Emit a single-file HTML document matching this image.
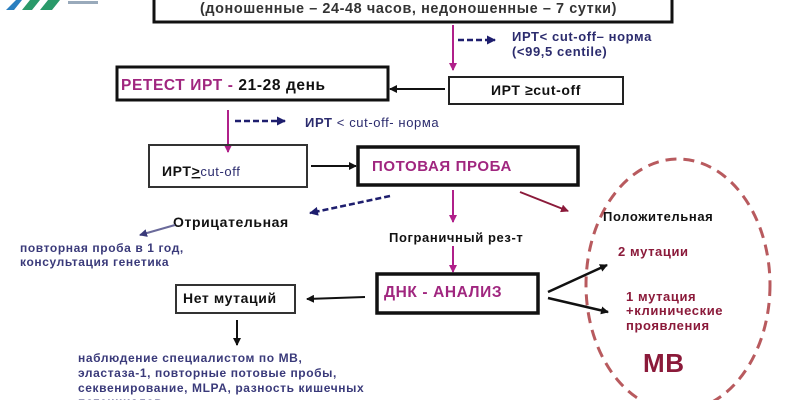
<!DOCTYPE html>
<html><head><meta charset="utf-8"><style>
body{margin:0;background:#fff}
svg{display:block}
text{font-family:"Liberation Sans","DejaVu Sans",sans-serif;font-weight:bold;letter-spacing:0.6px}
</style></head><body>
<svg width="800" height="400" viewBox="0 0 800 400" xmlns="http://www.w3.org/2000/svg">
<defs>
<marker id="ab" markerWidth="8" markerHeight="8" refX="7" refY="4" orient="auto" markerUnits="userSpaceOnUse"><path d="M0,0 L8,4 L0,8 z" fill="#111"/></marker>
<marker id="am" markerWidth="8" markerHeight="8" refX="7" refY="4" orient="auto" markerUnits="userSpaceOnUse"><path d="M0,0 L8,4 L0,8 z" fill="#b0208a"/></marker>
<marker id="an" markerWidth="9" markerHeight="9" refX="8" refY="4.5" orient="auto" markerUnits="userSpaceOnUse"><path d="M0,0 L9,4.5 L0,9 z" fill="#1e1e6e"/></marker>
<marker id="ar" markerWidth="8" markerHeight="8" refX="7" refY="4" orient="auto" markerUnits="userSpaceOnUse"><path d="M0,0 L8,4 L0,8 z" fill="#8b1a3a"/></marker>
<marker id="ag" markerWidth="8" markerHeight="8" refX="7" refY="4" orient="auto" markerUnits="userSpaceOnUse"><path d="M0,0 L8,4 L0,8 z" fill="#3a3a7a"/></marker>
</defs>
<path d="M6,10 L16,0 L22,0 L14,10 z" fill="#2a7fc0"/>
<path d="M22,10 L30,0 L40,0 L32,10 z" fill="#2a9a6a"/>
<path d="M40,10 L48,0 L60,0 L52,10 z" fill="#2a9a6a"/>
<rect x="68" y="1" width="30" height="3" fill="#9ab"/>
<rect x="154" y="-5" width="518" height="27" fill="none" stroke="#111" stroke-width="3"/>
<text x="200" y="13" font-size="14.5" fill="#333" textLength="417" lengthAdjust="spacingAndGlyphs">(доношенные – 24-48 часов, недоношенные – 7 сутки)</text>
<line x1="453" y1="25" x2="453" y2="70" stroke="#b0208a" stroke-width="2" marker-end="url(#am)"/>
<line x1="458" y1="40" x2="495" y2="40" stroke="#1e1e6e" stroke-width="2.5" stroke-dasharray="6,3" marker-end="url(#an)"/>
<text x="512" y="41" font-size="13" fill="#2c2c6e">ИРТ&lt; cut-off– норма</text>
<text x="512" y="56" font-size="13" fill="#2c2c6e">(&lt;99,5 centile)</text>
<rect x="449" y="77" width="174" height="27" fill="none" stroke="#222" stroke-width="2"/>
<text x="536" y="95" text-anchor="middle" font-size="14" fill="#111">ИРТ ≥cut-off</text>
<line x1="445" y1="89" x2="390" y2="89" stroke="#111" stroke-width="2" marker-end="url(#ab)"/>
<rect x="117" y="67" width="271" height="33" fill="none" stroke="#111" stroke-width="3"/>
<text x="121" y="90" font-size="15.5"><tspan fill="#a0267f">РЕТЕСТ ИРТ -</tspan><tspan fill="#111"> 21-28 день</tspan></text>
<line x1="228" y1="110" x2="228" y2="152" stroke="#b0208a" stroke-width="2" marker-end="url(#am)"/>
<line x1="235" y1="121" x2="285" y2="121" stroke="#1e1e6e" stroke-width="2.5" stroke-dasharray="6,3" marker-end="url(#an)"/>
<text x="305" y="127" font-size="13" fill="#2c2c6e">ИРТ <tspan font-weight="normal">&lt; cut-off- норма</tspan></text>
<rect x="149" y="145" width="158" height="42" fill="none" stroke="#333" stroke-width="2"/>
<text x="162" y="176" font-size="14" fill="#111">ИРТ<tspan text-decoration="underline">&gt;</tspan><tspan fill="#2c2c6e" font-weight="normal" font-size="13">cut-off</tspan></text>
<line x1="311" y1="166" x2="356" y2="166" stroke="#111" stroke-width="2" marker-end="url(#ab)"/>
<rect x="358" y="147" width="220" height="38" fill="none" stroke="#111" stroke-width="3.5"/>
<text x="372" y="171" font-size="15" fill="#a0267f">ПОТОВАЯ ПРОБА</text>
<line x1="453" y1="190" x2="453" y2="222" stroke="#b0208a" stroke-width="2" marker-end="url(#am)"/>
<text x="389" y="242" font-size="13" fill="#111">Пограничный рез-т</text>
<line x1="453" y1="246" x2="453" y2="272" stroke="#b0208a" stroke-width="2" marker-end="url(#am)"/>
<line x1="520" y1="192" x2="568" y2="211" stroke="#8b1a3a" stroke-width="2" marker-end="url(#ar)"/>
<line x1="390" y1="196" x2="310" y2="213" stroke="#1e1e6e" stroke-width="2.5" stroke-dasharray="6,3" marker-end="url(#an)"/>
<text x="173" y="227" font-size="14" fill="#111">Отрицательная</text>
<line x1="175" y1="225" x2="140" y2="235" stroke="#6a6a9a" stroke-width="2" marker-end="url(#ag)"/>
<text x="20" y="252" font-size="12" fill="#3a3a7a">повторная проба в 1 год,</text>
<text x="20" y="266" font-size="12" fill="#3a3a7a">консультация генетика</text>
<rect x="377" y="274" width="161" height="39" fill="none" stroke="#111" stroke-width="3.5"/>
<text x="384" y="297" font-size="15.5" fill="#a0267f">ДНК - АНАЛИЗ</text>
<line x1="365" y1="297" x2="307" y2="299" stroke="#111" stroke-width="2" marker-end="url(#ab)"/>
<rect x="176" y="285" width="119" height="28" fill="none" stroke="#333" stroke-width="2"/>
<text x="183" y="303" font-size="14" fill="#111">Нет мутаций</text>
<line x1="237" y1="320" x2="237" y2="345" stroke="#111" stroke-width="2" marker-end="url(#ab)"/>
<text font-size="12" fill="#3a3a7a"><tspan x="78" y="362">наблюдение специалистом по МВ,</tspan><tspan x="78" y="377">эластаза-1, повторные потовые пробы,</tspan><tspan x="78" y="392">секвенирование, MLPA, разность кишечных</tspan><tspan x="78" y="406">потенциалов</tspan></text>
<ellipse cx="678" cy="285" rx="92" ry="126" fill="none" stroke="#b85a5e" stroke-width="3" stroke-dasharray="11,7"/>
<text x="603" y="221" font-size="13" fill="#111">Положительная</text>
<text x="618" y="256" font-size="13" fill="#8b1a3a">2 мутации</text>
<line x1="548" y1="292" x2="607" y2="265" stroke="#111" stroke-width="2.5" marker-end="url(#ab)"/>
<line x1="548" y1="298" x2="608" y2="312" stroke="#111" stroke-width="2.5" marker-end="url(#ab)"/>
<text font-size="13" fill="#8b1a3a"><tspan x="626" y="301">1 мутация</tspan><tspan x="626" y="315">+клинические</tspan><tspan x="626" y="330">проявления</tspan></text>
<text x="643" y="372" font-size="26" fill="#8b1a3a">МВ</text>
</svg>
</body></html>
